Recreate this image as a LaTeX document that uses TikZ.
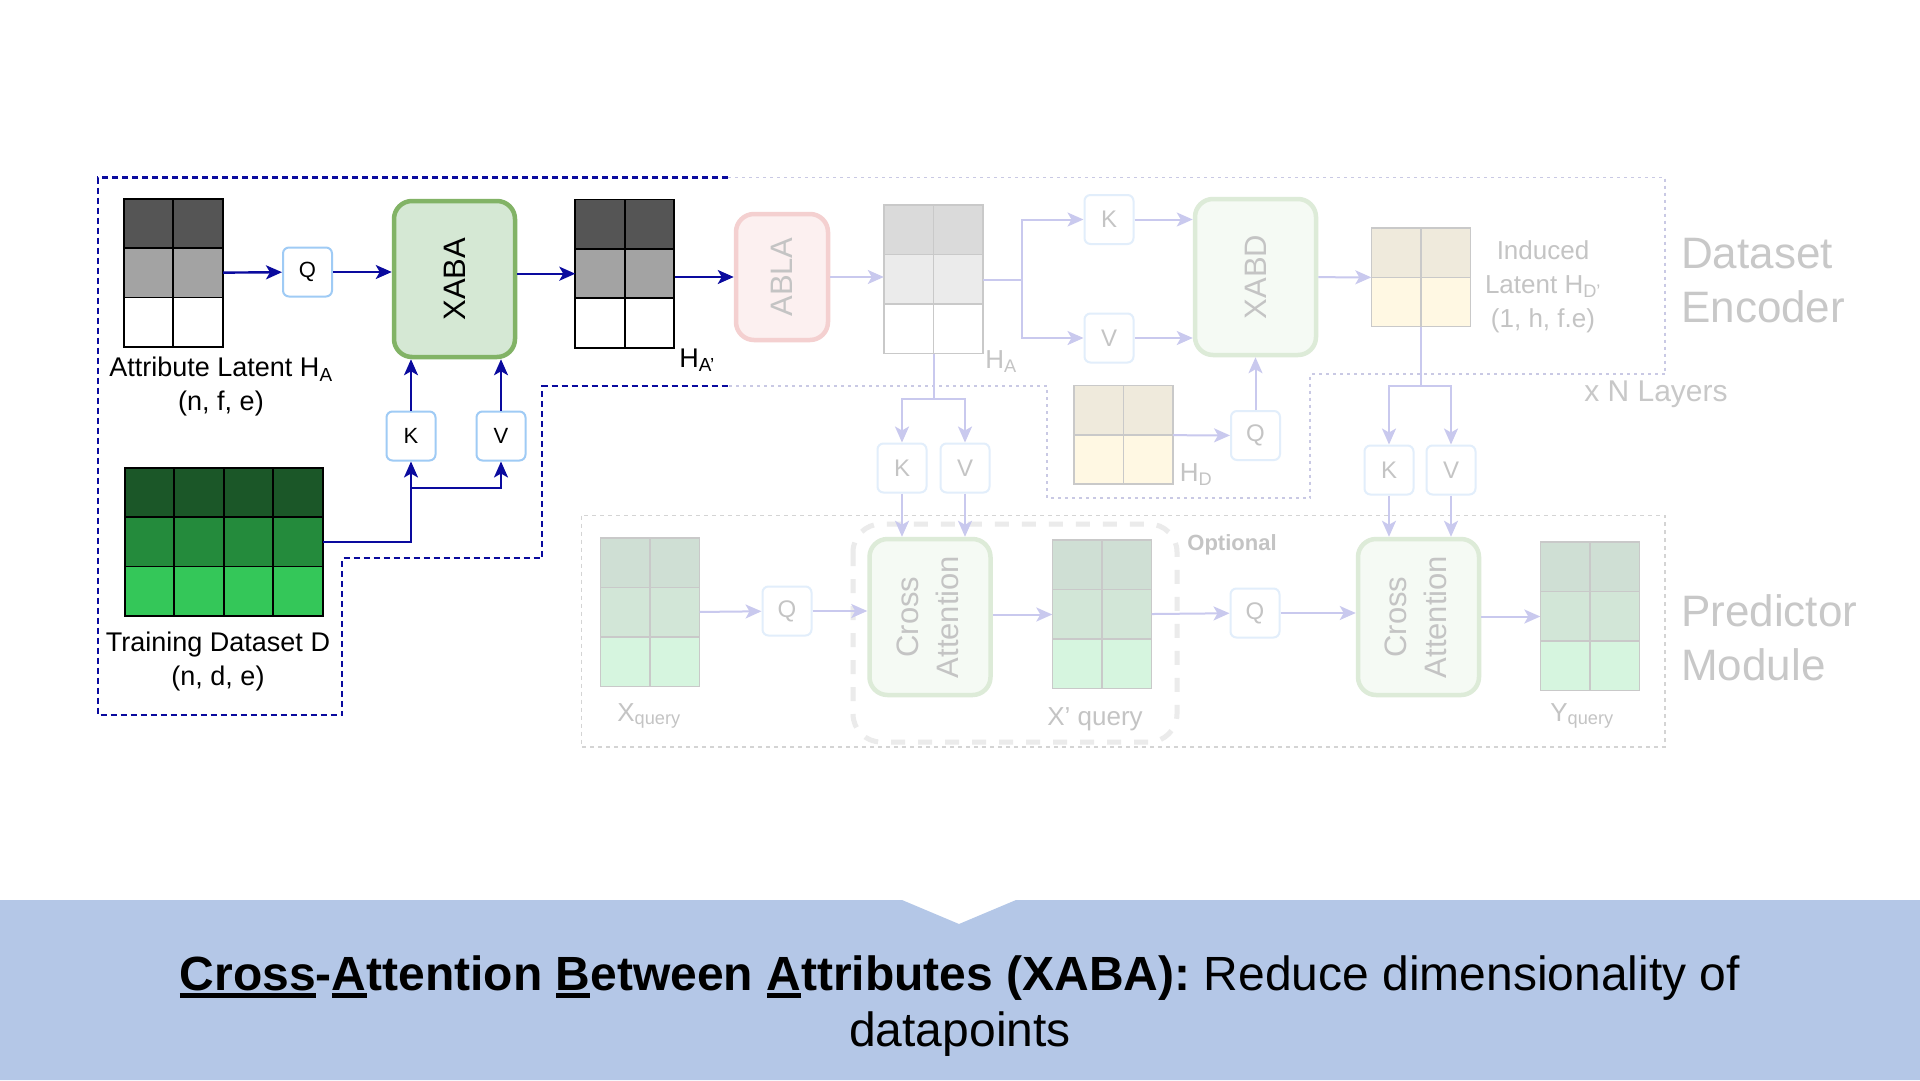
\documentclass[tikz,border=0pt]{standalone}
\usepackage{fontspec}
\setmainfont{Liberation Sans}
\usetikzlibrary{arrows.meta,positioning}
\definecolor{navy}{HTML}{0A0A9E}
\definecolor{kvqblue}{HTML}{9FCBF5}
\definecolor{xabafill}{HTML}{D5E8D4}
\definecolor{xabaline}{HTML}{82B366}
\definecolor{hadark}{HTML}{555555}
\definecolor{hamid}{HTML}{A3A3A3}
\definecolor{dgreen}{HTML}{1B5728}
\definecolor{mgreen}{HTML}{248B3C}
\definecolor{lgreen}{HTML}{34C759}
\definecolor{fadearrow}{HTML}{C9C9EE}
\definecolor{fadetext}{HTML}{C4C4C4}
\definecolor{fadekvq}{HTML}{E2EEFB}
\definecolor{fadegrid}{HTML}{C9C9C9}
\definecolor{fadedark}{HTML}{DADADA}
\definecolor{fademid}{HTML}{EBEBEB}
\definecolor{beigetop}{HTML}{EFEADC}
\definecolor{beigebot}{HTML}{FFF8E3}
\definecolor{gtop}{HTML}{CFDFD4}
\definecolor{gmid}{HTML}{D2E6D7}
\definecolor{gbot}{HTML}{D6F5DF}
\definecolor{fgreenfill}{HTML}{F5FAF4}
\definecolor{fgreenline}{HTML}{DDEBD8}
\definecolor{ablafill}{HTML}{FCF0F0}
\definecolor{ablaline}{HTML}{F4D0D0}
\definecolor{encline}{HTML}{C9C9E4}
\definecolor{predline}{HTML}{D4D4D4}
\definecolor{optline}{HTML}{EBEBEB}
\definecolor{bandblue}{HTML}{B4C7E7}
\definecolor{bigtext}{HTML}{C8C8C8}

% latent matrix: name, centre, columns, rows, row fills, rule style
\newcommand{\latent}[6]{%
  \node[inner sep=0pt, minimum width=#3*49.5pt, minimum height=#4*49.4pt] (#1) at (#2) {};
  \foreach \fc [count=\rw from 0] in {#5}
    \foreach \cl in {1,...,#3}
      \draw[#6, fill=\fc] ([xshift=(\cl-1)*49.5pt, yshift=-\rw*49.4pt]#1.north west) rectangle ++(49.5,49.4);
}
% thick underline for the caption
\newcommand{\capul}[1]{\vtop{\hbox{#1}\kern3pt\hrule height 5pt}}

\begin{document}
\begin{tikzpicture}[
      x=1pt, y=-1pt,
      kvq/.style={
        draw=kvqblue,
        line width=2pt,
        fill=white,
        rounded corners=6pt,
        minimum width=49pt,
        minimum height=49pt,
        inner sep=0pt,
        font=\fontsize{22}{26}\selectfont
      },
      fkvq/.style={kvq, draw=fadekvq, text=fadetext, font=\fontsize{24}{28}\selectfont},
      attn/.style={
        draw=xabaline,
        line width=4.5pt,
        fill=xabafill,
        rounded corners=18pt,
        minimum width=121pt,
        minimum height=156pt,
        inner sep=0pt,
        font=\fontsize{31}{40}\selectfont
      },
      fattn/.style={attn, draw=fgreenline, fill=fgreenfill, text=fadetext},
      abla/.style={attn, draw=ablaline, fill=ablafill, text=fadetext, minimum width=92pt, minimum height=126pt},
      arr/.style={-{Stealth[length=16pt,width=14pt,inset=4pt]}, line width=2.4pt, draw=navy},
      farr/.style={arr, line width=2pt, draw=fadearrow},
      fline/.style={line width=2pt, draw=fadearrow},
      lbl/.style={inner sep=0pt, font=\fontsize{27}{34}\selectfont},
      lblf/.style={lbl, text=fadetext, font=\fontsize{26}{34}\selectfont},
      bigtxt/.style={inner sep=0pt, text=bigtext, align=left, anchor=west, font=\fontsize{44}{54}\selectfont},
      encdark/.style={draw=navy, line width=2.4pt, dash pattern=on 6pt off 4pt},
      encfade/.style={draw=encline, line width=1.6pt, dash pattern=on 3pt off 4pt},
      predbox/.style={draw=predline, line width=1.6pt, dash pattern=on 4pt off 4pt},
      optbox/.style={draw=optline, line width=5pt, dash pattern=on 14pt off 13pt, rounded corners=28pt}
    ]
    \fill[white] (0,0) rectangle (1920,1080);
    \useasboundingbox (0,0) rectangle (1920,1080);

    % region outlines
    \draw[encfade] (728,177.5) -- (1665,177.5) -- (1665,374) -- (1310,374) -- (1310,498)
      -- (1047,498) -- (1047,386) -- (728,386);
    \draw[predbox] (581.5,515.5) rectangle (1665,747);
    \draw[optbox] (853,524) rectangle (1177,742);
    \draw[encdark] (728,177.5) -- (98,177.5) -- (98,715) -- (342,715) -- (342,558)
      -- (542,558) -- (542,386) -- (728,386);

    % faded encoder part
    \node[abla] (ABLA) at (782,277) {\rotatebox{90}{ABLA}};
    \latent{HA2}{933.5,279.5}{2}{3}{fadedark,fademid,white}{draw=fadegrid, line width=1.5pt}
    \node[lblf] (lblHA2) at (1001,362) {H\textsubscript{A}};
    \node[fkvq] (K2) at (1109,219.5) {K};
    \node[fkvq] (V2) at (1109,338) {V};
    \node[fattn] (XABD) at (1255.5,277) {\rotatebox{90}{XABD}};
    \latent{ID}{1421,277.5}{2}{2}{beigetop,beigebot}{draw=fadegrid, line width=1.5pt}
    \node[lblf, align=center] (lblID) at (1543,287) {Induced\\Latent H\textsubscript{D'}\\(1, h, f.e)};
    \latent{HD}{1123.5,435}{2}{2}{beigetop,beigebot}{draw=fadegrid, line width=1.5pt}
    \node[lblf] (lblHD) at (1196,475) {H\textsubscript{D}};
    \node[fkvq] (Q2) at (1255.5,435.5) {Q};
    \node[fkvq] (K3) at (902,468) {K};
    \node[fkvq] (V3) at (965,468) {V};
    \node[fkvq] (K4) at (1389,470) {K};
    \node[fkvq] (V4) at (1451,470) {V};

    % faded predictor part
    \latent{Xq}{650,612.5}{2}{3}{gtop,gmid,gbot}{draw=fadegrid, line width=1.5pt}
    \node[lblf] (lblXq) at (649,716) {X\textsubscript{query}};
    \node[fkvq] (Q3) at (787,611) {Q};
    \node[fattn] (CA1) at (930,617) {\rotatebox{90}{\begin{tabular}{@{}c@{}}Cross\\Attention\end{tabular}}};
    \latent{Xp}{1102,614.5}{2}{3}{gtop,gmid,gbot}{draw=fadegrid, line width=1.5pt}
    \node[lblf] (lblXp) at (1095,719) {X' query};
    \node[fkvq] (Q4) at (1255,613) {Q};
    \node[fattn] (CA2) at (1418.5,617) {\rotatebox{90}{\begin{tabular}{@{}c@{}}Cross\\Attention\end{tabular}}};
    \latent{Yq}{1590,616.5}{2}{3}{gtop,gmid,gbot}{draw=fadegrid, line width=1.5pt}
    \node[lblf] (lblYq) at (1582,716) {Y\textsubscript{query}};
    \node[inner sep=0pt, text=fadetext, font=\fontsize{22}{26}\selectfont\bfseries] (optname) at (1232,545) {Optional};

    \node[bigtxt] (encname) at (1681,281) {Dataset\\Encoder};
    \node[bigtxt] (predname) at (1681,638) {Predictor\\Module};
    \node[inner sep=0pt, text=bigtext, font=\fontsize{30}{36}\selectfont] (layers) at (1656,394) {x N Layers};

    % faded connectors
    \draw[farr] (ABLA) -- (ABLA -| HA2.west);
    \coordinate (esplit) at (1022,279.5);
    \draw[fline] (HA2) -- (esplit);
    \draw[farr] (esplit) |- (K2);
    \draw[farr] (esplit) |- (V2);
    \draw[farr] (K2) -- (K2 -| XABD.west);
    \draw[farr] (V2) -- (V2 -| XABD.west);
    \draw[farr] (XABD) -- (ID);
    \draw[farr] (HD) -- (Q2);
    \draw[farr] (Q2) -- (XABD);
    \coordinate (asplit) at (933.5,398.5);
    \draw[fline] (HA2) -- (asplit);
    \draw[farr] (asplit) -| (K3);
    \draw[farr] (asplit) -| (V3);
    \draw[farr] (K3) -- (K3 |- CA1.north);
    \draw[farr] (V3) -- (V3 |- CA1.north);
    \coordinate (isplit) at (1421,386);
    \draw[fline] (ID) -- (isplit);
    \draw[farr] (isplit) -| (K4);
    \draw[farr] (isplit) -| (V4);
    \draw[farr] (K4) -- (K4 |- CA2.north);
    \draw[farr] (V4) -- (V4 |- CA2.north);
    \draw[farr] (Xq) -- (Q3);
    \draw[farr] (Q3) -- (Q3 -| CA1.west);
    \draw[farr] (Xp -| CA1.east) -- (Xp);
    \draw[farr] (Xp) -- (Q4);
    \draw[farr] (Q4) -- (Q4 -| CA2.west);
    \draw[farr] (CA2.east |- Yq) -- (Yq);

    % XABA block
    \latent{HA}{173.5,273}{2}{3}{hadark,hamid,white}{draw=black, line width=1.8pt}
    \node[lbl, align=center] (lblHA) at (221,387) {Attribute Latent H\textsubscript{A}\\(n, f, e)};
    \node[kvq] (Q1) at (307.5,272) {Q};
    \node[attn] (XABA) at (454.5,279) {\rotatebox{90}{XABA}};
    \latent{HAp}{625,273.7}{2}{3}{hadark,hamid,white}{draw=black, line width=1.8pt}
    \node[lbl] (lblHAp) at (697,360) {H\textsubscript{A'}};
    \latent{D}{224,542}{4}{3}{dgreen,mgreen,lgreen}{draw=black, line width=1.8pt}
    \node[lbl, align=center] (lblD) at (218,662) {Training Dataset D\\(n, d, e)};
    \node[kvq] (K1) at (411,436) {K};
    \node[kvq, right=39pt of K1] (V1) {V};

    \draw[arr] (HA) -- (Q1);
    \draw[arr] (Q1) -- (Q1 -| XABA.west);
    \draw[arr] (XABA.east |- HAp) -- (HAp);
    \draw[arr] (HAp.east |- ABLA) -- (ABLA);
    \draw[arr] (D) -| (K1);
    \coordinate (dsplit) at (411,488);
    \draw[arr] (dsplit) -| (V1);
    \draw[arr] (K1) -- (K1 |- XABA.south);
    \draw[arr] (V1) -- (V1 |- XABA.south);

    % caption band
    \fill[bandblue] (0,900) -- (902,900) -- (959,924) -- (1016,900) -- (1920,900)
      -- (1920,1080) -- (0,1080) -- cycle;
    \node[anchor=base, inner sep=0pt, font=\fontsize{48}{55}\selectfont] (cap1) at (960,990)
      {\textbf{\capul{Cross}-\capul{A}ttention \capul{B}etween \capul{A}ttributes (XABA):} Reduce dimensionality of};
    \node[anchor=base, inner sep=0pt, font=\fontsize{48}{55}\selectfont] (cap2) at (960,1046) {datapoints};
  \end{tikzpicture}
\end{document}
